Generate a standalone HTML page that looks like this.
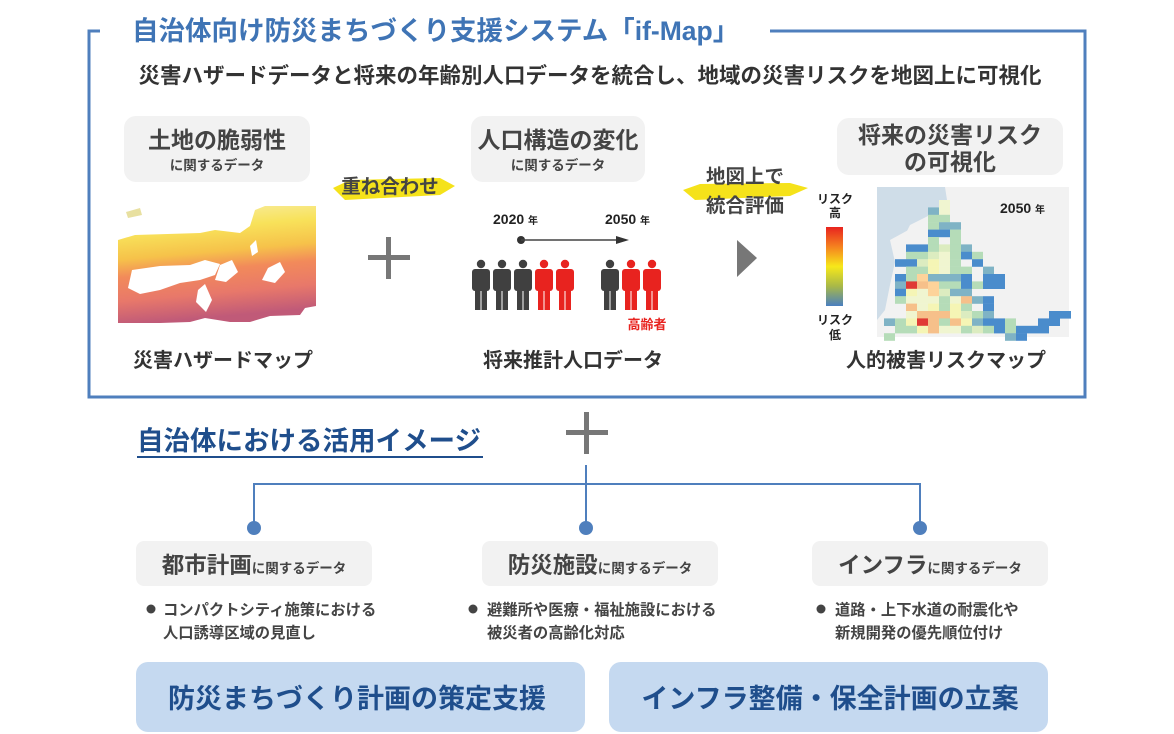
<!DOCTYPE html>
<html><head><meta charset="utf-8"><style>
html,body{margin:0;padding:0;background:#fff;width:1174px;height:734px;overflow:hidden}
svg text{font-family:"Liberation Sans","Noto Sans CJK JP",sans-serif;font-weight:bold}
</style></head><body>
<svg width="1174" height="734" viewBox="0 0 1174 734" xmlns="http://www.w3.org/2000/svg">
<defs>
<linearGradient id="hz" x1="0" y1="0" x2="0.15" y2="1">
<stop offset="0" stop-color="#f7efb0"/><stop offset="0.25" stop-color="#f8e25a"/><stop offset="0.45" stop-color="#f6c24a"/><stop offset="0.6" stop-color="#f28a5a"/><stop offset="0.8" stop-color="#e8786a"/><stop offset="1" stop-color="#c05a78"/>
</linearGradient>
<linearGradient id="lg" x1="0" y1="0" x2="0" y2="1">
<stop offset="0" stop-color="#e8231f"/><stop offset="0.25" stop-color="#f5821f"/><stop offset="0.5" stop-color="#f7e81a"/><stop offset="0.75" stop-color="#a8b848"/><stop offset="1" stop-color="#4a7fc0"/>
</linearGradient>
<g id="p"><circle cx="0" cy="264" r="4.2"/><rect x="-9" y="269" width="18" height="22" rx="3"/><rect x="-6" y="286" width="5.5" height="24"/><rect x="0.5" y="286" width="5.5" height="24"/></g>
</defs>
<!-- frame -->
<path d="M100 31 H89 V397 H1085 V31 H770" fill="none" stroke="#4f7fbd" stroke-width="3"/>
<text x="132" y="40" font-size="26.5" fill="#3f74b5">自治体向け防災まちづくり支援システム「if-Map」</text>
<text x="590" y="83" font-size="21.5" fill="#333" text-anchor="middle">災害ハザードデータと将来の年齢別人口データを統合し、地域の災害リスクを地図上に可視化</text>
<!-- gray boxes -->
<rect x="124" y="116" width="186" height="66" rx="12" fill="#f2f2f2"/>
<text x="217" y="148" font-size="23" fill="#444" text-anchor="middle">土地の脆弱性</text>
<text x="217" y="170" font-size="13.5" fill="#444" text-anchor="middle">に関するデータ</text>
<rect x="471" y="116" width="174" height="66" rx="12" fill="#f2f2f2"/>
<text x="558" y="148" font-size="23" fill="#444" text-anchor="middle">人口構造の変化</text>
<text x="558" y="170" font-size="13.5" fill="#444" text-anchor="middle">に関するデータ</text>
<rect x="837" y="118" width="226" height="57" rx="12" fill="#f2f2f2"/>
<text x="950" y="143" font-size="23" fill="#444" text-anchor="middle">将来の災害リスク</text>
<text x="950" y="170" font-size="23" fill="#444" text-anchor="middle">の可視化</text>
<!-- yellow brushes -->
<path d="M333 188 L350 180 L440 178 L455 186 L440 195 L345 200 Z" fill="#f5e21a"/>
<text x="390" y="193" font-size="19.5" fill="#444" text-anchor="middle">重ね合わせ</text>
<path d="M683 190 L700 184 L790 183 L808 188 L790 196 L695 200 Z" fill="#f5e21a"/>
<text x="745" y="183" font-size="19.5" fill="#444" text-anchor="middle">地図上で</text>
<text x="745" y="212" font-size="19.5" fill="#444" text-anchor="middle">統合評価</text>
<!-- plus -->
<rect x="368" y="255" width="42" height="5" fill="#777"/><rect x="386" y="237" width="5" height="42" fill="#777"/>
<!-- hazard map -->
<path d="M118 240 L135 235 L200 233 L215 230 L240 233 L250 226 L255 210 L265 206 L316 206 L316 306 L305 308 L300 315 L270 316 L250 322 L230 322 L205 318 L190 322 L160 323 L118 323 Z" fill="url(#hz)"/>
<path d="M132 270 L160 266 L190 265 L205 260 L220 264 L215 275 L200 280 L180 283 L160 290 L140 294 L128 288 Z" fill="#fff"/>
<path d="M220 265 L232 260 L238 272 L226 282 L215 280 Z" fill="#fff"/>
<path d="M268 268 L280 262 L285 272 L275 283 L262 280 Z" fill="#fff"/>
<path d="M198 290 L205 284 L212 300 L206 312 L196 302 Z" fill="#fff"/>
<path d="M250 246 L256 240 L258 252 L252 256 Z" fill="#fff"/>
<path d="M126 212 L140 208 L142 215 L128 218 Z" fill="#e8e0a0"/>
<!-- timeline -->
<text x="493" y="224" font-size="14" fill="#222">2020 <tspan font-size="10">年</tspan></text>
<text x="605" y="224" font-size="14" fill="#222">2050 <tspan font-size="10">年</tspan></text>
<circle cx="521" cy="240" r="4" fill="#333"/>
<line x1="521" y1="240" x2="620" y2="240" stroke="#444" stroke-width="1.5"/>
<path d="M616 236 L629 240 L616 244 Z" fill="#333"/>
<!-- people -->
<g fill="#404040"><use href="#p" x="481"/><use href="#p" x="502"/><use href="#p" x="523"/><use href="#p" x="610"/></g>
<g fill="#e8231f"><use href="#p" x="544"/><use href="#p" x="565"/><use href="#p" x="631"/><use href="#p" x="652"/></g>
<text x="647" y="329" font-size="13" fill="#e8231f" text-anchor="middle">高齢者</text>
<!-- triangle -->
<path d="M737 240 L757 258 L737 277 Z" fill="#777"/>
<!-- legend -->
<text x="835" y="203" font-size="12" fill="#222" text-anchor="middle">リスク</text>
<text x="835" y="217" font-size="12" fill="#222" text-anchor="middle">高</text>
<rect x="826" y="227" width="17" height="79" fill="url(#lg)"/>
<text x="835" y="324" font-size="12" fill="#222" text-anchor="middle">リスク</text>
<text x="835" y="339" font-size="12" fill="#222" text-anchor="middle">低</text>
<!-- risk map -->
<rect x="877" y="187" width="192" height="150" fill="#f2f2f2"/>
<path d="M877 187 L945 187 L947 200 L930 215 L910 225 L900 245 L895 262 L890 285 L885 310 L877 320 Z" fill="#cfdde8"/>
<path d="M890 240 L912 228 L925 238 L905 250 L895 262 Z" fill="#f2f2f2"/>
<g id="grid"></g>
<text x="1000" y="213" font-size="14" fill="#222">2050 <tspan font-size="10">年</tspan></text>
<!-- labels -->
<text x="223" y="367" font-size="20" fill="#333" text-anchor="middle">災害ハザードマップ</text>
<text x="573" y="367" font-size="20" fill="#333" text-anchor="middle">将来推計人口データ</text>
<text x="946" y="367" font-size="20" fill="#333" text-anchor="middle">人的被害リスクマップ</text>
<!-- bottom -->
<text x="137" y="450" font-size="26.5" fill="#1f4e8c">自治体における活用イメージ</text>
<rect x="137" y="456" width="346" height="2" fill="#1f4e8c"/>
<rect x="566" y="430" width="42" height="5" fill="#777"/><rect x="584" y="412" width="5" height="42" fill="#777"/>
<path d="M586 465 V527 M254 527 V484 H920 V527" fill="none" stroke="#4f7fbd" stroke-width="2"/>
<circle cx="254" cy="528" r="7" fill="#4f7fbd"/><circle cx="586" cy="528" r="7" fill="#4f7fbd"/><circle cx="920" cy="528" r="7" fill="#4f7fbd"/>
<rect x="136" y="541" width="236" height="45" rx="8" fill="#f2f2f2"/>
<text x="254" y="573" font-size="22.5" fill="#444" text-anchor="middle">都市計画<tspan font-size="13.5">に関するデータ</tspan></text>
<rect x="482" y="541" width="236" height="45" rx="8" fill="#f2f2f2"/>
<text x="600" y="573" font-size="22.5" fill="#444" text-anchor="middle">防災施設<tspan font-size="13.5">に関するデータ</tspan></text>
<rect x="812" y="541" width="236" height="45" rx="8" fill="#f2f2f2"/>
<text x="930" y="573" font-size="22.5" fill="#444" text-anchor="middle">インフラ<tspan font-size="13.5">に関するデータ</tspan></text>
<g font-size="15.3" fill="#444">
<circle cx="151" cy="609" r="4.5" fill="#444"/><text x="163" y="615">コンパクトシティ施策における</text><text x="163" y="638">人口誘導区域の見直し</text>
<circle cx="473" cy="609" r="4.5" fill="#444"/><text x="487" y="615">避難所や医療・福祉施設における</text><text x="487" y="638">被災者の高齢化対応</text>
<circle cx="821" cy="609" r="4.5" fill="#444"/><text x="835" y="615">道路・上下水道の耐震化や</text><text x="835" y="638">新規開発の優先順位付け</text>
</g>
<rect x="136" y="662" width="449" height="70" rx="12" fill="#c5d9f0"/>
<text x="357" y="708" font-size="27" fill="#1f4e8c" text-anchor="middle">防災まちづくり計画の策定支援</text>
<rect x="609" y="662" width="439" height="70" rx="12" fill="#c5d9f0"/>
<text x="830" y="708" font-size="27" fill="#1f4e8c" text-anchor="middle">インフラ整備・保全計画の立案</text>
</svg>
<script>
var C={b:"#4a8ccc",t:"#7fb3c5",g:"#b5dcb8",l:"#dcecc0",y:"#f5f5b5",w:"#f0f5d0",o:"#fdd39a",r:"#e03a35",q:"#f6c08a"};
var rows=["-----w","----tw","----gg","----gtt","----bbg","----g-g","--bbglgt","--gglwgbg","-bblywg-b","--ggywgg-t","-bgotttb-bb","-trqoggbgbb","-bywoltt","-gwwwgwqtb","--qwygyg b","--wqqqylgt-----bb","tgyrqgqytbbg--bb","-ggyqwwglgbgbbb","g----------tb"];
var s="";for(var r=0;r<rows.length;r++)for(var c=0;c<rows[r].length;c++){var k=rows[r][c];if(C[k])s+='<rect x="'+(884+c*11)+'" y="'+(200+r*7.4).toFixed(1)+'" width="11" height="7.6" fill="'+C[k]+'"/>';}
document.getElementById("grid").innerHTML=s;
</script>
</body></html>
